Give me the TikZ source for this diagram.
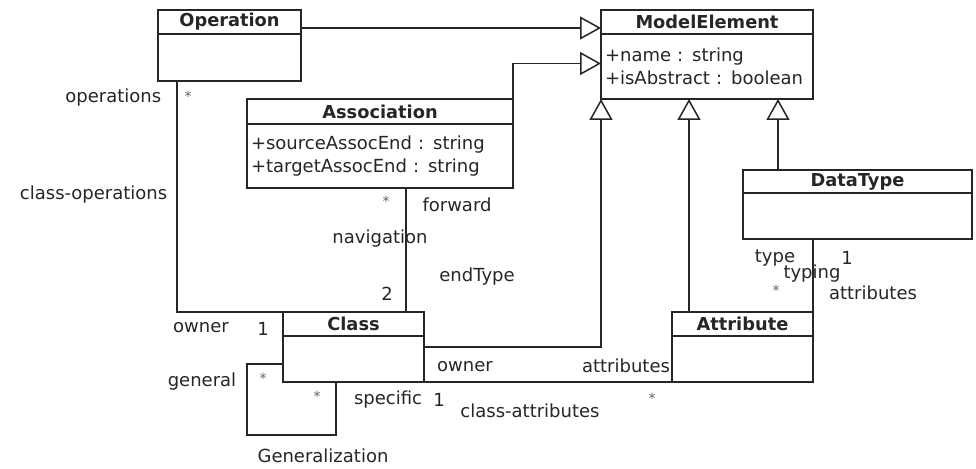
\documentclass[tikz,border=0pt]{standalone}
\usepackage{fontspec}
\setmainfont{DejaVu Sans}
\usetikzlibrary{arrows.meta}

\begin{document}
\begin{tikzpicture}[x=1pt, y=-1pt, line width=1.5pt,
	every node/.style={font=\fontsize{18}{23}\selectfont, inner sep=0pt, text=black!85},
	head/.style={draw=black!85, anchor=north west, outer sep=0pt, font=\fontsize{17.8}{20}\selectfont\bfseries},
	body/.style={draw=black!85, anchor=north west, outer sep=0pt, align=left, inner xsep=4pt},
	gen/.style={draw=black!85, -{Triangle[open, length=21pt, width=23pt]}},
	assoc/.style={draw=black!85},
	mult/.style={font=\fontsize{14}{14}\selectfont, text=black!60}]
	\path[fill=white] (0,0) rectangle (976,468);
	\useasboundingbox (0,0) rectangle (976,468);
	\node[head, minimum width=143pt, minimum height=24pt] (opH) at (158,10)  {Operation};
	\node[body, minimum width=143pt, minimum height=47pt] (opB) at (opH.south west) {};
	\node[head, minimum width=212pt, minimum height=24pt] (meH) at (601,10)  {ModelElement};
	\node[body, text width=204pt, minimum height=65pt]    (meB) at (meH.south west) {+name : string\\+isAbstract : boolean};
	\node[head, minimum width=266pt, minimum height=25pt] (asH) at (247,99)  {Association};
	\node[body, text width=258pt, minimum height=64pt]    (asB) at (asH.south west) {+sourceAssocEnd : string\\+targetAssocEnd : string};
	\node[head, minimum width=229pt, minimum height=23pt] (dtH) at (743,170) {DataType};
	\node[body, minimum width=229pt, minimum height=46pt] (dtB) at (dtH.south west) {};
	\node[head, minimum width=141pt, minimum height=24pt] (clH) at (283,312) {Class};
	\node[body, minimum width=141pt, minimum height=46pt] (clB) at (clH.south west) {};
	\node[head, minimum width=141pt, minimum height=24pt] (atH) at (672,312) {Attribute};
	\node[body, minimum width=141pt, minimum height=46pt] (atB) at (atH.south west) {};
	\coordinate (opFoot) at ([xshift=19pt]opB.south west);
	\coordinate (asFoot) at ([xshift=159pt]asB.south west);
	\coordinate (atTop)  at ([xshift=17pt]atH.north west);
	\coordinate (dtTop)  at ([xshift=35pt]dtH.north west);
	\coordinate (genCorner) at (247,435);
	\coordinate (genEnd) at ([xshift=53pt]clB.south west);
	\draw[gen] ([yshift=-6pt]opH.east) -- ([yshift=-6pt]meH.west);
	\draw[gen] (asH.north east) |- ([yshift=3pt]meB.west);
	\draw[gen] ([yshift=12pt]clB.east) -| (meB.south west);
	\draw[gen] (atTop) -- (atTop |- meB.south);
	\draw[gen] (dtTop) -- (dtTop |- meB.south);
	\draw[assoc] (opFoot) |- (clH.north west);
	\draw[assoc] (asFoot) -- (asFoot |- clH.north);
	\draw[assoc] (clB.south east) -- (atB.south west);
	\draw[assoc] (dtB.south -| atH.north east) -- (atH.north east);
	\draw[assoc] ([yshift=-5pt]clB.west) -| (genCorner) -| (genEnd);
	\node[anchor=east] (lOps) at (162,98) {operations};
	\node[mult] (mOps) at (188,96) {*};
	\node[anchor=east] (lClassOps) at (168,195) {class-operations};
	\node (lOwnerOp) at (201,328) {owner};
	\node (mOwnerOp) at (263,329) {1};
	\node (lGeneral) at (202,382) {general};
	\node[mult] (mGeneral) at (263,378) {*};
	\node[mult] (mSpecific) at (317,396) {*};
	\node (lSpecific) at (388,400) {specific};
	\node (mSpecOne) at (439,400) {1};
	\node (lGenName) at (323,456) {Generalization};
	\node[mult] (mNav) at (386,201) {*};
	\node (lForward) at (457,205) {forward};
	\node (lNavigation) at (380,239) {navigation};
	\node (lEndType) at (477,277) {endType};
	\node (mNavTwo) at (387,294) {2};
	\node (lOwnerAt) at (465,367) {owner};
	\node (lAttrs) at (626,366) {attributes};
	\node (lClassAttrs) at (530,411) {class-attributes};
	\node[mult] (mAttrs) at (652,398) {*};
	\node (lType) at (775,258) {type};
	\node (lTyping) at (812,274) {typing};
	\node (mTypeOne) at (847,258) {1};
	\node[mult] (mTyping) at (776,290) {*};
	\node (lAttrsDt) at (873,293) {attributes};
\end{tikzpicture}
\end{document}
